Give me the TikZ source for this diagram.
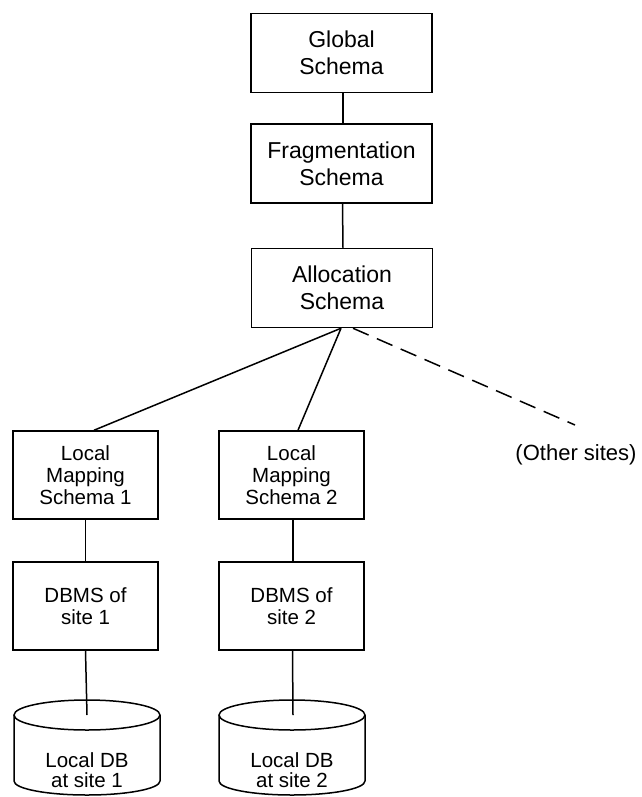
\documentclass[tikz,border=0pt]{standalone}
\usepackage{fontspec}
\setmainfont{Liberation Sans}
\begin{document}
\begin{tikzpicture}[x=1pt,y=1pt,
  box/.style={draw, line width=1.5pt, minimum width=181pt, minimum height=79pt, align=center, inner sep=0pt, font=\fontsize{23}{27}\selectfont},
  lbox/.style={draw, line width=1.5pt, minimum width=145pt, minimum height=88pt, align=center, inner sep=0pt, font=\fontsize{20.5}{22}\selectfont},
  dbtext/.style={align=center, inner sep=0pt, font=\fontsize{20.5}{20}\selectfont},
  link/.style={line width=1.5pt},
  dlink/.style={line width=1.5pt, dash pattern=on 17pt off 9pt},
  cyl/.style={line width=1.5pt}]
\useasboundingbox (0,0) rectangle (641,-797);
% top column
\node[box] (g) at (341.5,-53) {Global\\Schema};
\node[box] (f) at (341.5,-163.5) {Fragmentation\\Schema};
\node[box] (a) at (342,-288) {Allocation\\Schema};
% local columns
\node[lbox] (l1) at (85.5,-475) {Local\\Mapping\\Schema 1};
\node[lbox] (l2) at (291.5,-475) {Local\\Mapping\\Schema 2};
\node[lbox] (d1) at (85.5,-606) {DBMS of\\site 1};
\node[lbox] (d2) at (291.5,-606) {DBMS of\\site 2};
% cylinders
\coordinate (c1) at (87,-715);
\coordinate (c2) at (292,-715);
\draw[cyl] (c1) ellipse[x radius=73, y radius=15];
\draw[cyl] ([xshift=-73pt]c1) -- ++(0,-66) arc[start angle=180, end angle=360, x radius=73, y radius=14] -- ([xshift=73pt]c1);
\draw[cyl] (c2) ellipse[x radius=73, y radius=15];
\draw[cyl] ([xshift=-73pt]c2) -- ++(0,-66) arc[start angle=180, end angle=360, x radius=73, y radius=14] -- ([xshift=73pt]c2);
\node[dbtext] (db1) at (87,-770) {Local DB\\at site 1};
\node[dbtext] (db2) at (292,-770) {Local DB\\at site 2};
% other sites
\node[inner sep=0pt, font=\fontsize{22}{26}\selectfont] (o) at (576,-455) {(Other sites)};
\coordinate (oend) at (575,-425);
% connectors
\draw[link] ([xshift=1.5pt]g.south) -- ([xshift=1.5pt]f.north);
\draw[link] ([xshift=1pt]f.south) -- ([xshift=1pt]a.north);
\draw[link] ([xshift=-1pt]a.south) -- ([xshift=8.5pt]l1.north);
\draw[link] ([xshift=-1pt]a.south) -- ([xshift=6.5pt]l2.north);
\draw[dlink] ([xshift=11pt]a.south) -- (oend);
\draw[link] (l1.south) -- (d1.north);
\draw[link] ([xshift=1.5pt]l2.south) -- ([xshift=1.5pt]d2.north);
\draw[link] (d1.south) -- (c1);
\draw[link] ([xshift=1pt]d2.south) -- ([xshift=1pt]c2);
\end{tikzpicture}
\end{document}
